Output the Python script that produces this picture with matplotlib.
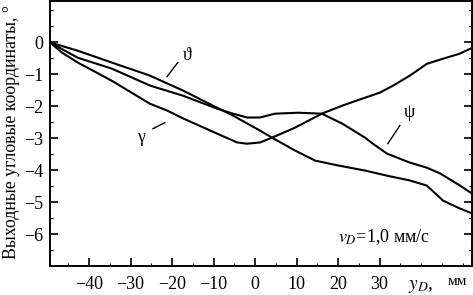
import matplotlib
matplotlib.use("Agg")
import matplotlib.pyplot as plt
from matplotlib.ticker import MultipleLocator

plt.rcParams['font.family'] = ['Liberation Serif', 'DejaVu Serif']
plt.rcParams['mathtext.fontset'] = 'stix'
plt.rcParams['axes.unicode_minus'] = True

# Data
theta_x = [-49.4, -42.7, -34.5, -25.3, -17.3, -9.2, -5.3, 1.2, 4.1, 9.6, 14.5, 20.0, 26.5, 31.8, 37.3, 41.4, 45.3, 49.4, 52.3]
theta_y = [0.0, -0.26, -0.63, -1.04, -1.51, -2.04, -2.29, -2.76, -2.98, -3.38, -3.70, -3.85, -4.01, -4.17, -4.32, -4.48, -4.95, -5.20, -5.35]

psi_x = [-49.4, -45.8, -42.7, -34.5, -25.3, -17.3, -9.2, -5.3, -1.9, 1.2, 4.8, 10.4, 16.1, 21.0, 26.5, 28.4, 31.8, 37.3, 41.4, 44.6, 49.4, 52.3]
psi_y = [0.0, -0.26, -0.48, -0.82, -1.35, -1.67, -2.07, -2.23, -2.35, -2.35, -2.23, -2.20, -2.23, -2.54, -2.98, -3.17, -3.48, -3.76, -3.92, -4.10, -4.48, -4.73]

gamma_x = [-49.4, -46.5, -42.7, -34.5, -25.3, -21.2, -17.3, -9.2, -4.3, -1.9, 1.2, 4.1, 9.6, 16.1, 21.0, 26.5, 30.1, 33.3, 37.3, 41.4, 45.3, 49.4, 52.3]
gamma_y = [0.0, -0.32, -0.63, -1.20, -1.92, -2.13, -2.38, -2.85, -3.13, -3.17, -3.13, -2.98, -2.67, -2.23, -1.98, -1.73, -1.57, -1.35, -1.04, -0.67, -0.51, -0.35, -0.17]

x_ticks = [-40, -30, -20, -10, 0, 10, 20, 30]
y_ticks = [0, -1, -2, -3, -4, -5, -6]

fig = plt.figure(figsize=(4.73, 2.95), dpi=100)
ax = fig.add_axes([0.1057, 0.098, 0.8923, 0.899])

lw = 1.5
ax.plot(theta_x, theta_y, color='black', lw=lw)
ax.plot(psi_x, psi_y, color='black', lw=lw)
ax.plot(gamma_x, gamma_y, color='black', lw=lw)

ax.set_xlim(-49.4, 52.3)
ax.set_ylim(-7.0, 1.3)
ax.set_xticks(x_ticks)
ax.set_xticklabels([f"{v:d}".replace('-', '\u2212') for v in x_ticks])
ax.set_yticks(y_ticks)
ax.set_yticklabels([f"{v:d}".replace('-', '\u2212') for v in y_ticks])
ax.xaxis.set_minor_locator(MultipleLocator(5))
ax.yaxis.set_minor_locator(MultipleLocator(0.5))

ax.tick_params(axis='both', which='major', direction='in', length=6, width=1.2,
               labelsize=13, right=True, top=False, pad=5)
ax.tick_params(axis='both', which='minor', direction='in', length=2.5, width=0.8,
               right=True, top=False)
ax.tick_params(axis='x', which='major', pad=7)
for s in ax.spines.values():
    s.set_linewidth(1.4)

# Curve labels with leaders
ax.text(-16.4, -0.42, '\u03d1', fontsize=13, ha='center', va='center')
ax.plot([-18.6, -21.2], [-0.63, -1.07], color='black', lw=1.0)
ax.text(37.3, -2.2, '\u03c8', fontsize=13, ha='center', va='center')
ax.plot([34.9, 32.0], [-2.6, -3.17], color='black', lw=1.0)
ax.text(-27.5, -2.98, '\u03b3', fontsize=13, ha='center', va='center')
ax.plot([-24.6, -21.7], [-2.70, -2.51], color='black', lw=1.0)

ax.text(20.0, -6.08, '$v_D$=1,0 мм/с', fontsize=13, ha='left', va='center')

fig.text(0.862, 0.028, '$y_D$, ', fontsize=14, ha='left', va='center')
fig.text(0.946, 0.045, 'мм', fontsize=11, ha='left', va='center')

ax.set_ylabel('Выходные угловые координаты, °', fontsize=12.8, labelpad=2)
ax.yaxis.set_label_coords(-0.071, 0.505)

fig.savefig('out.png', dpi=100)
